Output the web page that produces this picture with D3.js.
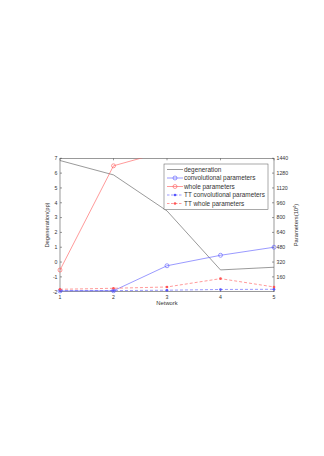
<!DOCTYPE html>
<html>
<head>
<meta charset="utf-8">
<script src="https://cdn.jsdelivr.net/npm/d3@7"></script>
<style>
body { margin: 0; background: #fff; }
text { font-family: "Liberation Sans", Arial, sans-serif; fill: #333; }
</style>
</head>
<body>
<div id="chart"></div>
<script>
// data
var networks = [1, 2, 3, 4, 5];
var degeneration = [6.85, 5.88, 3.45, -0.53, -0.35];
var convParams = [8, 10, 280, 393, 480];
var wholeParams = [234, 1359, 1520, 1800, 2100];
var ttConvParams = [12, 12, 16, 24, 26];
var ttWholeParams = [26, 37, 51, 141, 51];
var leftTicks = [-2, -1, 0, 1, 2, 3, 4, 5, 6, 7];
var rightTicks = [160, 320, 480, 640, 800, 960, 1120, 1280, 1440];

var width = 324, height = 456;
// note: "top" is reserved on window, so use plot* names
var plotLeft = 60, plotRight = 274, plotTop = 158.3, plotBottom = 291.7;

var svg = d3.select("#chart").append("svg")
    .attr("width", width)
    .attr("height", height);

var x = d3.scaleLinear().domain([1, 5]).range([plotLeft, plotRight]);
var yL = d3.scaleLinear().domain([-2, 7]).range([plotBottom, plotTop]);
var yR = d3.scaleLinear().domain([0, 1440]).range([plotBottom, plotTop]);

svg.append("clipPath").attr("id", "clip")
    .append("rect")
    .attr("x", plotLeft).attr("y", plotTop)
    .attr("width", plotRight - plotLeft).attr("height", plotBottom - plotTop);

var axisColor = "#555";

// box
svg.append("rect")
    .attr("x", plotLeft).attr("y", plotTop)
    .attr("width", plotRight - plotLeft).attr("height", plotBottom - plotTop)
    .style("fill", "none")
    .style("stroke", axisColor)
    .style("stroke-width", 0.6);

// ticks and labels
var tickLen = 2;
var tickFont = "5.2px";

svg.selectAll(".xtick")
    .data(networks)
    .enter()
    .append("path")
    .attr("d", function (d) {
        return "M" + x(d) + "," + plotBottom + "v" + (-tickLen) +
            "M" + x(d) + "," + plotTop + "v" + tickLen;
    })
    .style("stroke", axisColor)
    .style("stroke-width", 0.6);

svg.selectAll(".xlabel")
    .data(networks)
    .enter()
    .append("text")
    .attr("x", function (d) { return x(d); })
    .attr("y", plotBottom + 7)
    .attr("text-anchor", "middle")
    .style("font-size", tickFont)
    .text(function (d) { return d; });

svg.selectAll(".yltick")
    .data(leftTicks)
    .enter()
    .append("path")
    .attr("d", function (d) { return "M" + plotLeft + "," + yL(d) + "h" + tickLen; })
    .style("stroke", axisColor)
    .style("stroke-width", 0.6);

svg.selectAll(".yllabel")
    .data(leftTicks)
    .enter()
    .append("text")
    .attr("x", plotLeft - 2.5)
    .attr("y", function (d) { return yL(d) + 1.8; })
    .attr("text-anchor", "end")
    .style("font-size", tickFont)
    .text(function (d) { return d; });

svg.selectAll(".yrtick")
    .data(rightTicks)
    .enter()
    .append("path")
    .attr("d", function (d) { return "M" + plotRight + "," + yR(d) + "h" + (-tickLen); })
    .style("stroke", axisColor)
    .style("stroke-width", 0.6);

svg.selectAll(".yrlabel")
    .data(rightTicks)
    .enter()
    .append("text")
    .attr("x", plotRight + 2.5)
    .attr("y", function (d) { return yR(d) + 1.8; })
    .attr("text-anchor", "start")
    .style("font-size", tickFont)
    .text(function (d) { return d; });

// axis titles
svg.append("text")
    .attr("x", (plotLeft + plotRight) / 2)
    .attr("y", plotBottom + 13.5)
    .attr("text-anchor", "middle")
    .style("font-size", "5.8px")
    .text("Network");

svg.append("text")
    .attr("transform", "translate(49," + ((plotTop + plotBottom) / 2) + ") rotate(-90)")
    .attr("text-anchor", "middle")
    .style("font-size", "5.8px")
    .text("Degeneration(pp)");

var rl = svg.append("text")
    .attr("transform", "translate(298," + ((plotTop + plotBottom) / 2) + ") rotate(-90)")
    .attr("text-anchor", "middle")
    .style("font-size", "5.8px");
rl.append("tspan").text("Parameters(10");
rl.append("tspan").attr("dy", -2).style("font-size", "4px").text("4");
rl.append("tspan").attr("dy", 2).text(")");

// series
var series = [
    { name: "degeneration", values: degeneration, scale: yL, color: "#555", dash: null, marker: "none" },
    { name: "convolutional parameters", values: convParams, scale: yR, color: "#5555ff", dash: null, marker: "circle" },
    { name: "whole parameters", values: wholeParams, scale: yR, color: "#ff5555", dash: null, marker: "circle" },
    { name: "TT convolutional parameters", values: ttConvParams, scale: yR, color: "#5555ff", dash: "3,2", marker: "dot" },
    { name: "TT whole parameters", values: ttWholeParams, scale: yR, color: "#ff5555", dash: "3,2", marker: "dot" }
];

var plot = svg.append("g").attr("clip-path", "url(#clip)");

function drawMarker(g, kind, color, cx, cy) {
    if (kind == "circle") {
        g.append("circle")
            .attr("cx", cx).attr("cy", cy).attr("r", 2)
            .style("fill", "none")
            .style("stroke", color)
            .style("stroke-width", 0.6);
    } else if (kind == "dot") {
        g.append("circle")
            .attr("cx", cx).attr("cy", cy).attr("r", 1.3)
            .style("fill", color);
    }
}

series.forEach(function (s) {
    var line = d3.line()
        .x(function (d, i) { return x(networks[i]); })
        .y(function (d) { return s.scale(d); });
    plot.append("path")
        .datum(s.values)
        .attr("d", line)
        .style("fill", "none")
        .style("stroke", s.color)
        .style("stroke-width", 0.6)
        .style("stroke-dasharray", s.dash);
});

// markers only where the point is inside the axis range
series.forEach(function (s) {
    s.values.forEach(function (d, i) {
        var cy = s.scale(d);
        if (cy >= plotTop - 0.5 && cy <= plotBottom + 0.5) {
            drawMarker(svg, s.marker, s.color, x(networks[i]), cy);
        }
    });
});

// legend
var lg = svg.append("g").attr("transform", "translate(164,164)");
lg.append("rect")
    .attr("width", 104).attr("height", 45.5)
    .style("fill", "#fff")
    .style("stroke", axisColor)
    .style("stroke-width", 0.5);

series.forEach(function (s, i) {
    var yy = 5.5 + i * 8.5;
    lg.append("line")
        .attr("x1", 3).attr("x2", 19)
        .attr("y1", yy).attr("y2", yy)
        .style("stroke", s.color)
        .style("stroke-width", 0.6)
        .style("stroke-dasharray", s.dash ? "2.5,1.5" : null);
    drawMarker(lg, s.marker, s.color, 11, yy);
    lg.append("text")
        .attr("x", 20)
        .attr("y", yy + 2.2)
        .style("font-size", "6.4px")
        .text(s.name);
});
</script>
</body>
</html>
